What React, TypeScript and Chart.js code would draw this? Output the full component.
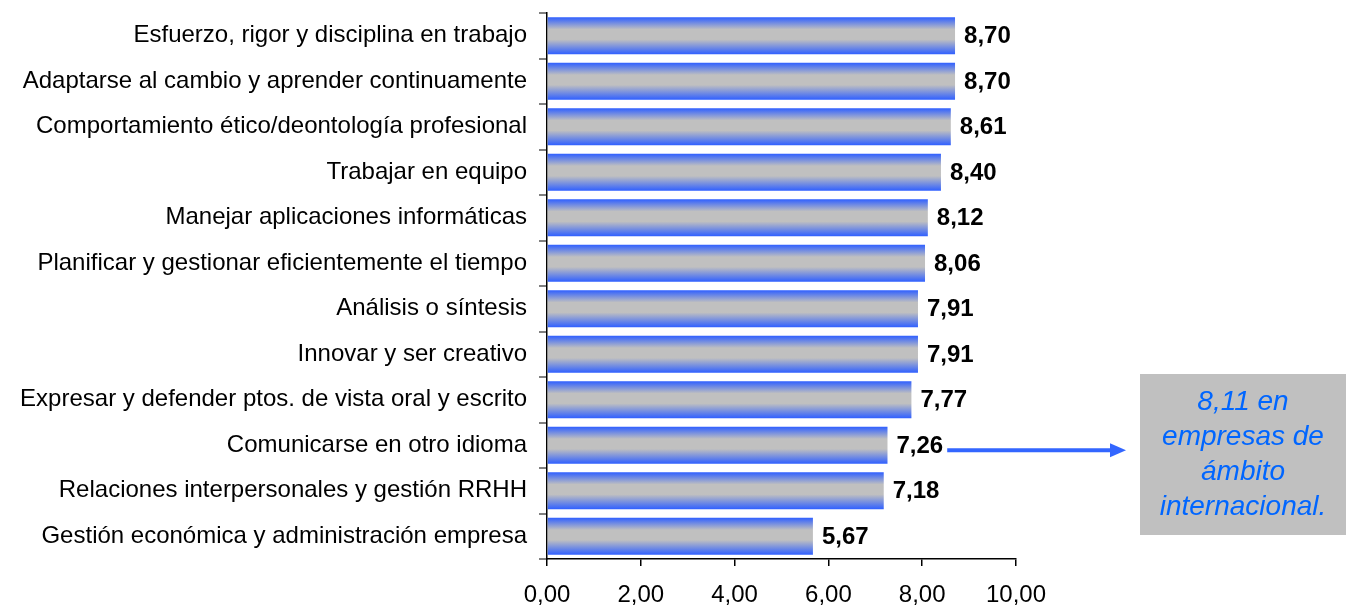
import React, { useEffect, useRef } from "react";
import { Chart, registerables } from "chart.js";

Chart.register(...registerables);

const categories = [
  "Esfuerzo, rigor y disciplina en trabajo",
  "Adaptarse al cambio y aprender continuamente",
  "Comportamiento ético/deontología profesional",
  "Trabajar en equipo",
  "Manejar aplicaciones informáticas",
  "Planificar y gestionar eficientemente el tiempo",
  "Análisis o síntesis",
  "Innovar y ser creativo",
  "Expresar y defender ptos. de vista oral y escrito",
  "Comunicarse en otro idioma",
  "Relaciones interpersonales y gestión RRHH",
  "Gestión económica y administración empresa",
];

const values = [8.7, 8.7, 8.61, 8.4, 8.12, 8.06, 7.91, 7.91, 7.77, 7.26, 7.18, 5.67];

const xMin = 0;
const xMax = 10;
const xStep = 2;

const noteLines = ["8,11 en", "empresas de", "ámbito", "internacional."];
const noteCategory = "Comunicarse en otro idioma";

const FONT = 'Arial, "Liberation Sans", sans-serif';
const fmt = (v: number) => v.toFixed(2).replace(".", ",");

const BAR_PCT = 0.81;

export default function App() {
  const ref = useRef<HTMLCanvasElement | null>(null);

  useEffect(() => {
    if (!ref.current) return;

    const labelPlugin = {
      id: "valueLabels",
      afterDatasetsDraw(chart: any) {
        const ctx = chart.ctx;
        const meta = chart.getDatasetMeta(0);
        ctx.save();
        ctx.font = `bold 24px ${FONT}`;
        ctx.fillStyle = "#000";
        ctx.textAlign = "left";
        ctx.textBaseline = "middle";
        meta.data.forEach((el: any, i: number) => {
          ctx.fillText(fmt(values[i]), el.x + 9, el.y + 1);
        });
        ctx.restore();
      },
    };

    const notePlugin = {
      id: "note",
      afterDraw(chart: any) {
        const ctx = chart.ctx;
        const idx = categories.indexOf(noteCategory);
        const meta = chart.getDatasetMeta(0);
        const el = meta.data[idx];
        if (!el) return;
        ctx.save();
        const bx = 1140, by = 374, bw = 206, bh = 161;
        ctx.fillStyle = "#c0c0c0";
        ctx.fillRect(bx, by, bw, bh);
        ctx.font = `italic 28px ${FONT}`;
        ctx.fillStyle = "#0066ff";
        ctx.textAlign = "center";
        ctx.textBaseline = "middle";
        const cx = bx + bw / 2;
        const lh = 35;
        const startY = by + bh / 2 - (lh * (noteLines.length - 1)) / 2;
        noteLines.forEach((t, i) => ctx.fillText(t, cx, startY + i * lh));
        ctx.font = `bold 24px ${FONT}`;
        const labelEnd = el.x + 9 + ctx.measureText(fmt(values[idx])).width;
        const ay = el.y + 5;
        const ax0 = labelEnd + 4;
        const ax1 = 1126;
        ctx.strokeStyle = "#3366ff";
        ctx.fillStyle = "#3366ff";
        ctx.lineWidth = 4;
        ctx.beginPath();
        ctx.moveTo(ax0, ay);
        ctx.lineTo(ax1 - 14, ay);
        ctx.stroke();
        ctx.beginPath();
        ctx.moveTo(ax1, ay);
        ctx.lineTo(ax1 - 16, ay - 7);
        ctx.lineTo(ax1 - 16, ay + 7);
        ctx.closePath();
        ctx.fill();
        ctx.restore();
      },
    };

    const chart = new Chart(ref.current, {
      type: "bar",
      data: {
        labels: categories,
        datasets: [
          {
            data: values,
            backgroundColor: (c: any) => {
              const chart = c.chart;
              const ys = chart.scales && chart.scales.y;
              if (!ys || c.dataIndex === undefined) return "#c0c0c0";
              const center = ys.getPixelForValue(c.dataIndex);
              const half = ((ys.bottom - ys.top) / categories.length) * BAR_PCT / 2;
              if (!isFinite(center) || !isFinite(half) || half <= 0) return "#c0c0c0";
              const g = chart.ctx.createLinearGradient(0, center - half, 0, center + half);
              g.addColorStop(0, "#3060ff");
              g.addColorStop(0.33, "#c0c0c0");
              g.addColorStop(0.6, "#c0c0c0");
              g.addColorStop(1, "#3060ff");
              return g;
            },
            borderWidth: 0,
            barPercentage: BAR_PCT,
            categoryPercentage: 1,
          },
        ],
      },
      options: {
        indexAxis: "y",
        responsive: true,
        maintainAspectRatio: false,
        animation: false,
        layout: { padding: { top: 13, right: 330, bottom: 0, left: 0 } },
        plugins: {
          legend: { display: false },
          tooltip: { enabled: false },
        },
        scales: {
          x: {
            min: xMin,
            max: xMax,
            ticks: {
              stepSize: xStep,
              callback: (v: any) => fmt(Number(v)),
              font: { family: FONT, size: 24 },
              color: "#000",
              padding: 15,
            },
            grid: {
              drawOnChartArea: false,
              drawTicks: true,
              tickLength: 7,
              color: "#000",
              lineWidth: 1.5,
            },
            border: { color: "#000", width: 1.5 },
            afterFit: (s: any) => {
              s.height = 47;
            },
          },
          y: {
            ticks: {
              font: { family: FONT, size: 24 },
              color: "#000",
              padding: 12,
            },
            grid: {
              drawOnChartArea: false,
              drawTicks: true,
              tickLength: 8,
              color: "#808080",
              lineWidth: 2,
              offset: true,
            },
            border: { color: "#000", width: 1.5 },
            afterFit: (s: any) => {
              s.width = 547;
              s.paddingTop = 0;
              s.paddingBottom = 0;
            },
          },
        },
      },
      plugins: [labelPlugin, notePlugin],
    });
    chart.update();

    return () => chart.destroy();
  }, []);

  return (
    <div style={{ position: "fixed", left: 0, top: 0, width: 1346, height: 606, background: "#fff" }}>
      <canvas ref={ref} />
    </div>
  );
}
